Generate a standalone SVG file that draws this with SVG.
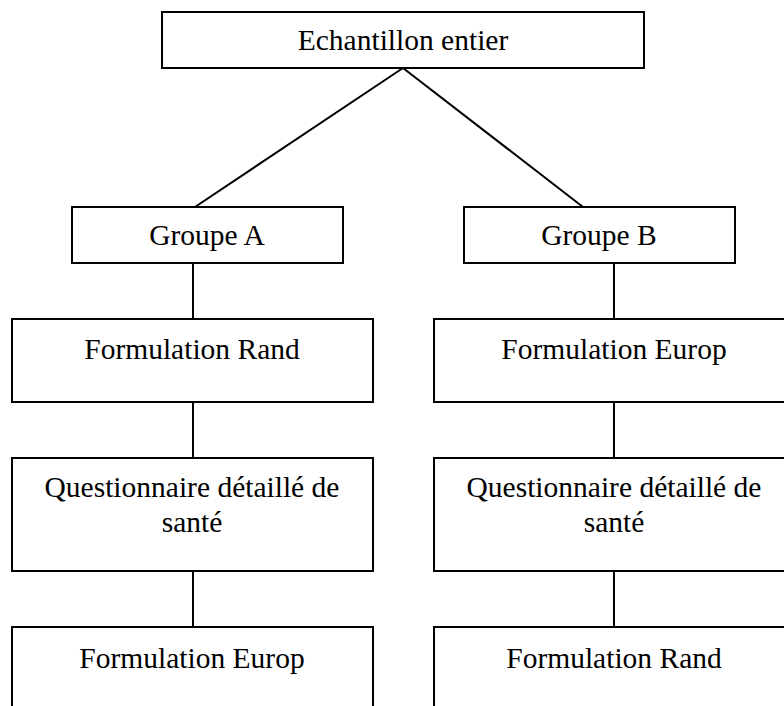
<svg xmlns="http://www.w3.org/2000/svg" width="784" height="706" viewBox="0 0 784 706">
<style>
.box{fill:#fff;stroke:#000;stroke-width:2}
.ln{stroke:#000;stroke-width:2;fill:none}
text{font-family:"Liberation Serif","Times New Roman",serif;font-size:29.5px;fill:#000;text-anchor:middle}
</style>
<rect width="784" height="706" fill="#fff"/>
<g id="connectors">
<line class="ln" x1="403" y1="68" x2="195" y2="207"/>
<line class="ln" x1="403" y1="68" x2="583" y2="207"/>
<line class="ln" x1="193" y1="263" x2="193" y2="319"/>
<line class="ln" x1="614" y1="263" x2="614" y2="319"/>
<line class="ln" x1="193" y1="402" x2="193" y2="458"/>
<line class="ln" x1="614" y1="402" x2="614" y2="458"/>
<line class="ln" x1="193" y1="571" x2="193" y2="627"/>
<line class="ln" x1="614" y1="571" x2="614" y2="627"/>
</g>
<g id="root">
<rect class="box" x="162" y="12" width="482" height="56"/>
<text x="403" y="50">Echantillon entier</text>
</g>
<g id="groupeA">
<rect class="box" x="72" y="207" width="271" height="56"/>
<text x="207" y="245">Groupe A</text>
</g>
<g id="groupeB">
<rect class="box" x="464" y="207" width="271" height="56"/>
<text x="599" y="245">Groupe B</text>
</g>
<g id="a1">
<rect class="box" x="12" y="319" width="361" height="83"/>
<text x="192" y="359">Formulation Rand</text>
</g>
<g id="b1">
<rect class="box" x="434" y="319" width="361" height="83"/>
<text x="614" y="359">Formulation Europ</text>
</g>
<g id="a2">
<rect class="box" x="12" y="458" width="361" height="113"/>
<text x="192" y="497">Questionnaire détaillé de</text>
<text x="192" y="532">santé</text>
</g>
<g id="b2">
<rect class="box" x="434" y="458" width="361" height="113"/>
<text x="614" y="497">Questionnaire détaillé de</text>
<text x="614" y="532">santé</text>
</g>
<g id="a3">
<rect class="box" x="12" y="627" width="361" height="100"/>
<text x="192" y="668">Formulation Europ</text>
</g>
<g id="b3">
<rect class="box" x="434" y="627" width="361" height="100"/>
<text x="614" y="668">Formulation Rand</text>
</g>
</svg>
